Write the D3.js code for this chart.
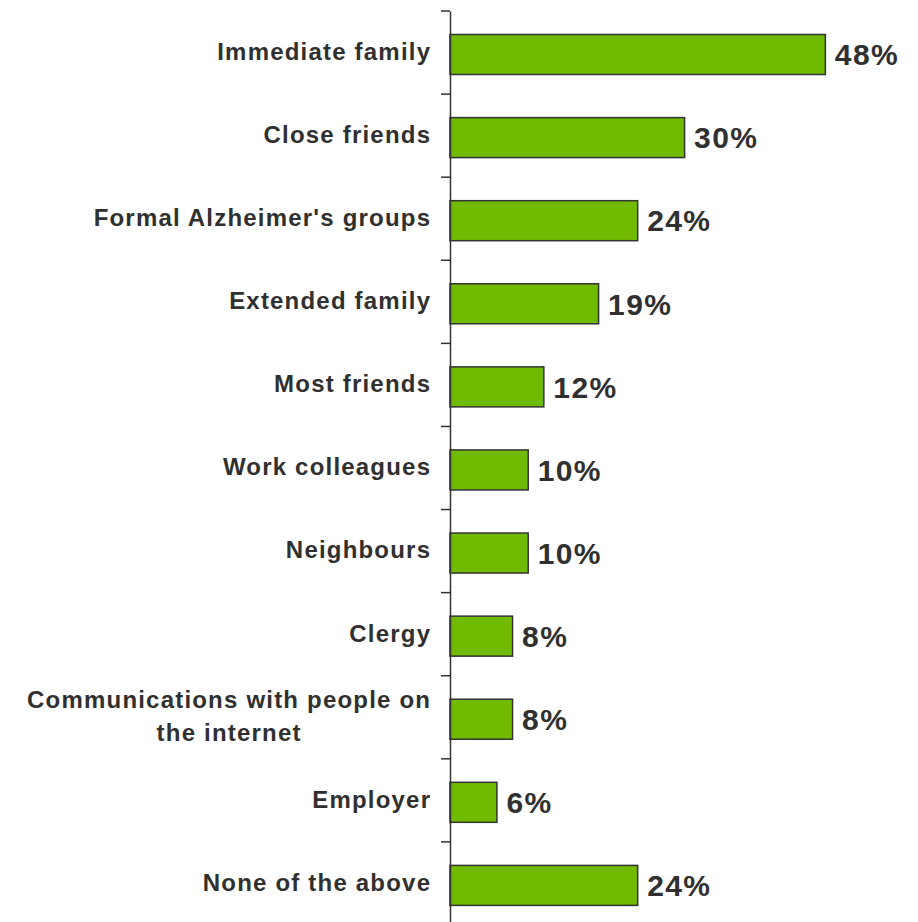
<!DOCTYPE html>
<html>
<head>
<meta charset="utf-8">
<script src="https://cdn.jsdelivr.net/npm/d3@7"></script>
<style>
  html, body { margin: 0; padding: 0; background: #ffffff; }
  svg { display: block; }
  text { font-family: "Liberation Sans", Arial, sans-serif; font-weight: bold; fill: #303030; }
</style>
</head>
<body>
<svg id="chart" width="918" height="922"></svg>
<script>
const categories = [
  "Immediate family",
  "Close friends",
  "Formal Alzheimer's groups",
  "Extended family",
  "Most friends",
  "Work colleagues",
  "Neighbours",
  "Clergy",
  "Communications with people on|the internet",
  "Employer",
  "None of the above"
];
const values = [48, 30, 24, 19, 12, 10, 10, 8, 8, 6, 24];
const valueLabels = ["48%", "30%", "24%", "19%", "12%", "10%", "10%", "8%", "8%", "6%", "24%"];

const svg = d3.select("#chart");
const axisX = 450;
const y = d3.scaleBand().domain(categories).range([11, 925]).padding(0);
const x = d3.scaleLinear().domain([0, 50]).range([axisX, axisX + 391]);

const barOffset = 23.5, barH = 40;

// bars
svg.append("g").selectAll("rect")
  .data(categories)
  .join("rect")
  .attr("x", x(0))
  .attr("y", d => y(d) + barOffset)
  .attr("width", (d, i) => x(values[i]) - x(0))
  .attr("height", barH)
  .attr("fill", "#70BA00")
  .attr("stroke", "#333333")
  .attr("stroke-width", 1.5);

// axis
const axis = d3.axisLeft(y).tickSizeInner(0).tickSizeOuter(0).tickFormat("");
const gAxis = svg.append("g").attr("transform", `translate(${axisX},0)`).call(axis);
gAxis.select(".domain").attr("stroke", "#333333").attr("stroke-width", 1.5);
gAxis.selectAll(".tick").remove();
// ticks at band boundaries
const bounds = categories.map(c => y(c)).concat([y(categories[categories.length - 1]) + y.bandwidth()]);
svg.append("g").selectAll("line")
  .data(bounds)
  .join("line")
  .attr("x1", axisX - 9).attr("x2", axisX)
  .attr("y1", d => d).attr("y2", d => d)
  .attr("stroke", "#333333").attr("stroke-width", 1.5);

// category labels
const labelRight = 430;
const lineH = 33.4;
const ls = 1.2;
const gLabels = svg.append("g");
categories.forEach(c => {
  const lines = c.split("|");
  const cy = y(c) + y.bandwidth() / 2 - 1;
  const t = gLabels.append("text")
    .attr("font-size", 24)
    .attr("letter-spacing", ls);
  lines.forEach((ln, j) => {
    t.append("tspan")
      .attr("y", cy + (j - (lines.length - 1) / 2) * lineH)
      .attr("dy", "0.35em")
      .text(ln);
  });
  if (lines.length === 1) {
    const w = t.node().getComputedTextLength();
    t.selectAll("tspan").attr("x", labelRight - w + ls);
  } else {
    let maxW = 0;
    t.selectAll("tspan").each(function() { maxW = Math.max(maxW, this.getComputedTextLength()); });
    t.attr("text-anchor", "middle");
    t.selectAll("tspan").attr("x", labelRight + ls - maxW / 2);
  }
});

// value labels
svg.append("g").selectAll("text")
  .data(categories)
  .join("text")
  .attr("x", (d, i) => x(values[i]) + 9.5)
  .attr("y", d => y(d) + barOffset + barH / 2)
  .attr("dy", "0.36em")
  .attr("font-size", 30)
  .attr("letter-spacing", 1.4)
  .text((d, i) => valueLabels[i]);
</script>
</body>
</html>
